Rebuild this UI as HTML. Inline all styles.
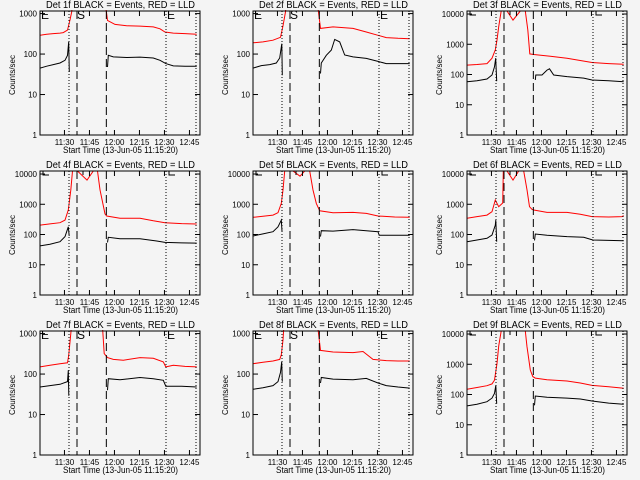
<!DOCTYPE html>
<html><head><meta charset="utf-8"><style>
html,body{margin:0;padding:0;background:#f4f4f4;}
svg{display:block;font-family:"Liberation Sans",sans-serif;}
</style></head><body>
<svg id="fig" width="640" height="480" viewBox="0 0 640 480">
<rect x="0" y="0" width="640" height="480" fill="#f4f4f4"/>
</svg>
<script>
// ---- data (minutes after 11:15:20, counts/sec) ----
const detNames = ["1f","2f","3f","4f","5f","6f","7f","8f","9f"];
const detScaleMax = [1000,1000,10000,10000,10000,10000,1000,1000,10000];
const tickLabelTimes = ["11:30","11:45","12:00","12:15","12:30","12:45"];
const tickTimes = [14.67,29.67,44.67,59.67,74.67,89.67];
const markerDotted = [17.4,75.6,93.6];
const markerDashed = [22.2,39.8];

const det1BlackT = [0,4,8,12,15,16.5,17.2,17.6,null,40.5,41,44,52,60,68,72,75.5,80,87,94];
const det1BlackV = [45,50,55,60,70,93,200,36,null,48,93,85,82,84,80,70,58,51,50,50];
const det1RedT = [0,4,8,12,14,16.5,18,19,20,null,38.5,40.5,45,52,60,68,72,75,80,87,94];
const det1RedV = [290,310,320,330,340,390,700,1100,3000,null,3000,680,540,500,490,470,420,350,330,320,310];

const det2BlackT = [0,5,10,14,16,17.3,17.6,null,40.5,41,44,47,49,52,55,60,68,75,80,87,94];
const det2BlackV = [45,52,55,60,80,180,30,null,33,60,93,125,230,200,95,85,78,66,58,58,58];
const det2RedT = [0,6,12,16.5,18,19.5,20.5,null,38,40.5,48,60,68,75,80,87,94];
const det2RedV = [190,200,220,260,500,1100,3000,null,3000,430,470,430,350,290,255,245,240];

const det3BlackT = [0,6,12,15,16.5,17.2,17.8,null,41,41.3,45,48,49.5,52,60,70,75,85,94];
const det3BlackV = [58,62,71,96,180,345,60,null,66,96,96,140,155,96,85,76,66,62,58];
const det3RedT = [0,6,12,15,17,18,19,20.5,24,27.6,32,35,36.5,37.7,40,50,60,75,85,94];
const det3RedV = [205,215,230,345,650,1380,3800,12600,12600,6300,12600,12600,3000,480,460,400,345,250,230,218];

const det4BlackT = [0,6,12,15,17,17.5,null,40.5,41,48,60,70,75,85,94];
const det4BlackV = [42,48,58,85,180,90,null,55,81,72,72,61,55,53,52];
const det4RedT = [0,6,12,15,17,18.5,19.5,22.5,28.2,32,34.5,36,39,40,48,60,68,75,85,94];
const det4RedV = [205,225,245,300,650,2950,12600,12600,6300,12600,12600,3000,480,410,345,345,285,245,230,222];

const det5BlackT = [0,6,12,15,17,17.4,null,40.5,41,48,60,68,75,75.7,85,94];
const det5BlackV = [89,105,124,180,300,130,null,85,134,130,145,134,124,94,94,94];
const det5RedT = [0,6,12,15,17,18,19,24,28.2,31,34,36,38,40,48,60,68,75,85,94];
const det5RedV = [370,400,440,525,1070,2960,12600,12600,8500,12600,12600,2960,1070,610,525,540,500,410,380,370];

const det6BlackT = [0,6,12,15,17,17.3,17.8,null,40.5,41,48,60,70,75.5,85,94];
const det6BlackV = [58,66,75,96,205,300,58,null,64,104,94,85,81,66,64,62];
const det6RedT = [0,6,12,15,17,19,21.4,21.8,24,27.6,31,34,36,37.5,39,40,48,60,68,75,85,93,94];
const det6RedV = [345,390,440,570,1380,830,1100,12600,12600,6300,12600,12600,3000,830,680,645,540,540,465,390,380,390,420];

const det7BlackT = [0,6,12,16.5,17,17.3,null,40.5,41,48,60,68,74,75.5,85,94];
const det7BlackV = [48,52,56,65,124,29,null,40,77,72,82,77,70,50,50,48];
const det7RedT = [0,6,12,16.5,17.2,18.5,19.5,null,37,38.5,40.5,44,50,60,68,74,75.5,80,87,94];
const det7RedV = [150,165,180,190,290,1000,3000,null,3000,320,255,230,220,255,245,200,150,165,155,150];

const det8BlackT = [0,6,12,15,16.5,17.2,17.6,null,40.5,41,48,60,68,75,80,87,94];
const det8BlackV = [42,46,52,65,110,200,65,null,60,82,75,72,78,60,52,48,45];
const det8RedT = [0,6,12,16,17,18,19,null,38,40.5,48,60,66,72,80,87,94];
const det8RedV = [180,195,210,230,300,700,3000,null,3000,385,350,340,360,230,215,210,210];

const det9BlackT = [0,6,12,15,16.5,17.3,17.8,null,40.5,41,48,60,68,75,85,94];
const det9BlackV = [42,48,58,76,110,200,50,null,44,89,81,76,71,61,52,48];
const det9RedT = [0,6,12,15,16.5,18,19,20.5,35,36,38,39.5,41,48,60,68,75,85,94];
const det9RedV = [150,170,195,225,300,1070,4000,12600,12600,3800,645,390,350,310,280,240,200,180,160];

const blackTimes = [det1BlackT,det2BlackT,det3BlackT,det4BlackT,det5BlackT,det6BlackT,det7BlackT,det8BlackT,det9BlackT];
const blackValues = [det1BlackV,det2BlackV,det3BlackV,det4BlackV,det5BlackV,det6BlackV,det7BlackV,det8BlackV,det9BlackV];
const redTimes = [det1RedT,det2RedT,det3RedT,det4RedT,det5RedT,det6RedT,det7RedT,det8RedT,det9RedT];
const redValues = [det1RedV,det2RedV,det3RedV,det4RedV,det5RedV,det6RedV,det7RedV,det8RedV,det9RedV];

const NS = "http://www.w3.org/2000/svg";
const fig = document.getElementById("fig");
function mk(tag, attrs, parent){const e=document.createElementNS(NS,tag);for(const k in attrs)e.setAttribute(k,attrs[k]);parent.appendChild(e);return e;}

const L=40,R=200,T=11,B=135,TMAX=96;
for(let p=0;p<9;p++){
  const ox=[0,213,427][p%3], oy=[0,160,320][Math.floor(p/3)];
  const g=mk("g",{transform:"translate("+ox+","+oy+")"},fig);
  
  
  const big = detScaleMax[p]===10000;
  const ltop = big?4.1:3.064;
  const x = t => L + t*(R-L)/TMAX;
  const y = v => B - Math.log10(v)*(B-T)/ltop;
  const cid="clip"+p;
  const cp=mk("clipPath",{id:cid},g); mk("rect",{x:L,y:T-1,width:R-L,height:B-T+1},cp);
  function path(ts,vs){let d="",pen=false;for(let i=0;i<ts.length;i++){if(ts[i]===null||vs[i]===null){pen=false;continue;}d+=(pen?"L":"M")+x(ts[i]).toFixed(1)+","+y(vs[i]).toFixed(1);pen=true;}return d;}
  const rl=mk("path",{d:path(redTimes[p],redValues[p]),fill:"none",stroke:"#ff0000","stroke-width":1,"clip-path":"url(#"+cid+")"},g);
  
  
  const bl=mk("path",{d:path(blackTimes[p],blackValues[p]),fill:"none",stroke:"#000","stroke-width":1,"clip-path":"url(#"+cid+")"},g);
  
  
  markerDotted.forEach(t=>{const l=mk("line",{x1:x(t),x2:x(t),y1:T,y2:B,stroke:"#000","stroke-width":1,"stroke-dasharray":"1,2"},g);
    
    });
  markerDashed.forEach(t=>{const l=mk("line",{x1:x(t),x2:x(t),y1:T,y2:B,stroke:"#000","stroke-width":1,"stroke-dasharray":"8,4"},g);
    
    });
  const bx=mk("rect",{x:L,y:T,width:R-L,height:B-T,fill:"none",stroke:"#000","stroke-width":1},g);
  
  
  const nd = big?4:3;
  for(let k=0;k<=nd;k++){
    const yy=y(Math.pow(10,k));
    mk("line",{x1:L,x2:L+5,y1:yy,y2:yy,stroke:"#000"},g);
    mk("line",{x1:R-5,x2:R,y1:yy,y2:yy,stroke:"#000"},g);
    const tl=mk("text",{x:L-3,y:yy+3,"font-size":8,"text-anchor":"end",fill:"#000"},g);
    tl.textContent=String(Math.pow(10,k));
    
    
  }
  tickTimes.forEach((t,i)=>{
    mk("line",{x1:x(t),x2:x(t),y1:B,y2:B-5,stroke:"#000"},g);
    mk("line",{x1:x(t),x2:x(t),y1:T,y2:T+5,stroke:"#000"},g);
    const tl=mk("text",{x:x(t),y:B+10,"font-size":8,"text-anchor":"middle",fill:"#000"},g);
    tl.textContent=tickLabelTimes[i];
    
    
  });
  const ti=mk("text",{x:46,y:8,"font-size":10,fill:"#000",textLength:149,lengthAdjust:"spacingAndGlyphs"},g);
  ti.textContent="Det "+detNames[p]+" BLACK = Events, RED = LLD";
  
  
  const xt=mk("text",{x:63,y:153,"font-size":9,fill:"#000",textLength:115,lengthAdjust:"spacingAndGlyphs"},g);
  xt.textContent="Start Time (13-Jun-05 11:15:20)";
  
  
  const yt=mk("text",{x:0,y:0,"font-size":8,fill:"#000","text-anchor":"middle",transform:"translate(15,75) rotate(-90)"},g);
  yt.textContent="Counts/sec";
  
  
  if(!big){
    [["E",41],["S",77],["E",167]].forEach(a=>{const e=mk("text",{x:a[1],y:19,"font-size":12,fill:"#000"},g);e.textContent=a[0];
      
      });
  } else {
    const d="M43,11V15H49M169,11V15H175M77,15V11M77,11H83V15";
    const e=mk("path",{d:d,fill:"none",stroke:"#000"},g);
    
    
  }
}
</script>
</body></html>
